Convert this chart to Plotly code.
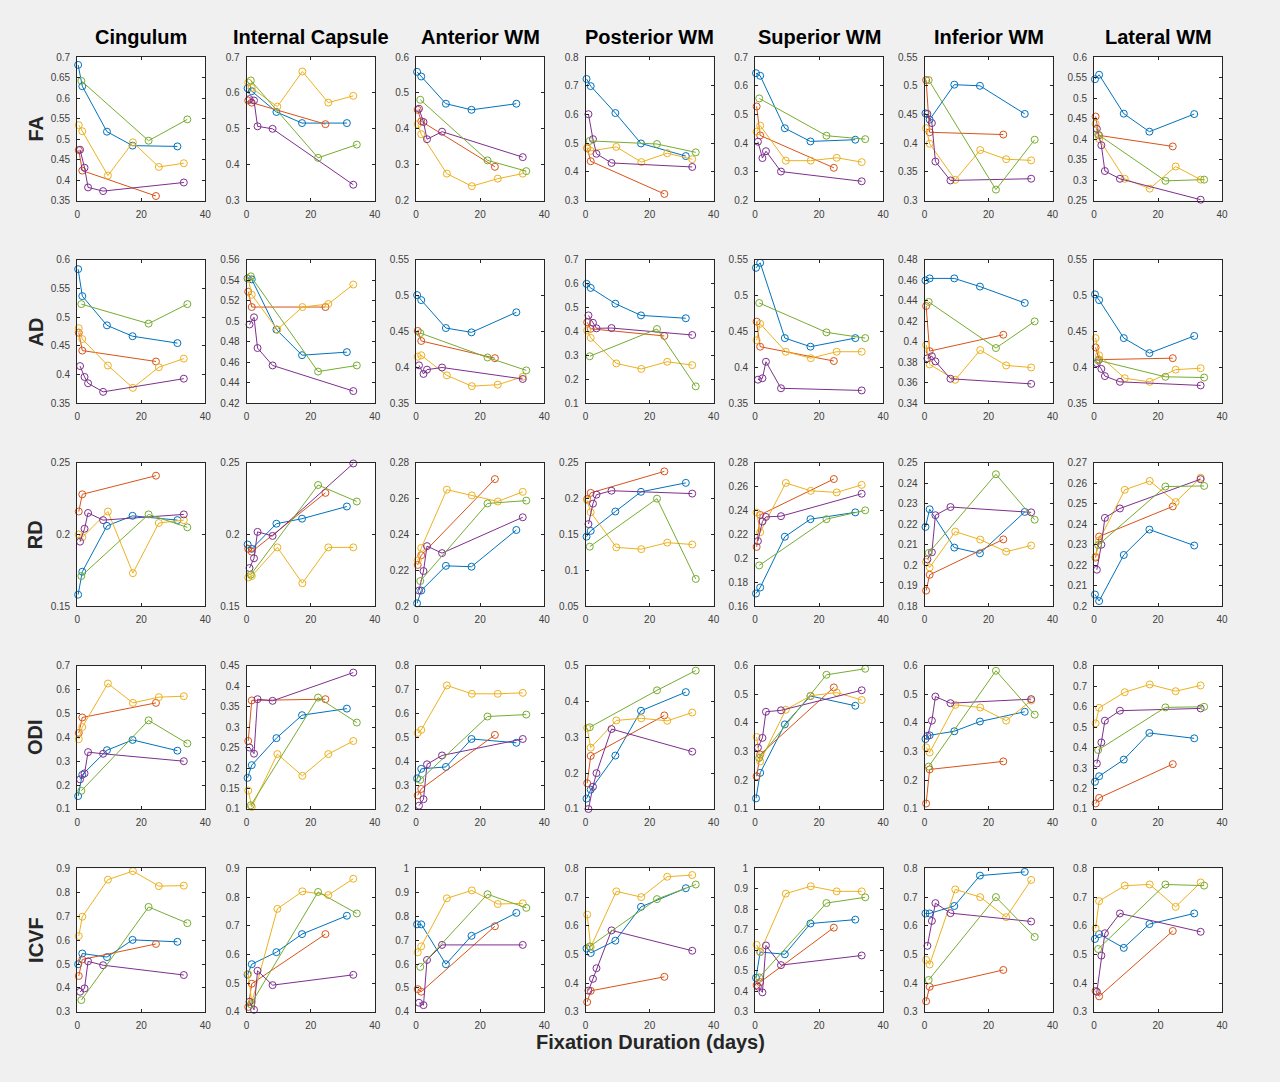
import plotly.graph_objects as go

REGIONS = ["Cingulum", "Internal Capsule", "Anterior WM", "Posterior WM",
           "Superior WM", "Inferior WM", "Lateral WM"]
METRICS = ["FA", "AD", "RD", "ODI", "ICVF"]
XLABEL = "Fixation Duration (days)"

# fixation durations (days) of each specimen series
X_BLUE = [0.3, 1.6, 9.3, 17.3, 31.3]
X_ORANGE = [0.5, 1.6, 24.6]
X_YELLOW = [0.5, 1.6, 9.6, 17.4, 25.5, 33.3]
X_PURPLE = [0.9, 2.3, 3.4, 8.1, 33.3]
X_GREEN = [1.3, 22.3, 34.4]

# values: one list per region (Cingulum .. Lateral WM)
FA_BLUE = [[0.681, 0.629, 0.518, 0.484, 0.482], [0.613, 0.605, 0.547, 0.516, 0.516],
           [0.559, 0.546, 0.470, 0.453, 0.470], [0.724, 0.699, 0.605, 0.499, 0.455],
           [0.644, 0.635, 0.452, 0.406, 0.412], [0.452, 0.441, 0.502, 0.500, 0.451],
           [0.546, 0.557, 0.462, 0.418, 0.461]]
FA_ORANGE = [[0.473, 0.423, 0.361], [0.579, 0.573, 0.513], [0.453, 0.421, 0.294],
             [0.482, 0.437, 0.323], [0.528, 0.427, 0.314], [0.510, 0.419, 0.415],
             [0.455, 0.409, 0.382]]
FA_YELLOW = [[0.534, 0.519, 0.411, 0.492, 0.432, 0.441], [0.629, 0.614, 0.562, 0.660, 0.573, 0.592],
             [0.413, 0.385, 0.275, 0.240, 0.261, 0.275], [0.485, 0.473, 0.487, 0.434, 0.465, 0.444],
             [0.440, 0.461, 0.339, 0.339, 0.349, 0.334], [0.426, 0.399, 0.336, 0.388, 0.372, 0.370],
             [0.437, 0.400, 0.303, 0.279, 0.333, 0.301]]
FA_PURPLE = [[0.474, 0.430, 0.382, 0.373, 0.394], [0.583, 0.579, 0.507, 0.500, 0.344],
             [0.456, 0.419, 0.371, 0.392, 0.321], [0.601, 0.514, 0.463, 0.431, 0.417],
             [0.405, 0.348, 0.372, 0.301, 0.267], [0.451, 0.435, 0.368, 0.335, 0.338],
             [0.425, 0.385, 0.322, 0.303, 0.252]]
FA_GREEN = [[0.642, 0.496, 0.548], [0.635, 0.419, 0.456], [0.481, 0.312, 0.282],
            [0.508, 0.497, 0.468], [0.556, 0.426, 0.414], [0.510, 0.319, 0.406],
            [0.411, 0.298, 0.301]]

AD_BLUE = [[0.584, 0.537, 0.486, 0.467, 0.455], [0.542, 0.541, 0.492, 0.467, 0.470],
           [0.501, 0.494, 0.455, 0.449, 0.477], [0.600, 0.583, 0.517, 0.468, 0.456],
           [0.539, 0.546, 0.441, 0.429, 0.441], [0.460, 0.462, 0.462, 0.454, 0.438],
           [0.502, 0.494, 0.441, 0.420, 0.444]]
AD_ORANGE = [[0.473, 0.442, 0.423], [0.529, 0.514, 0.514], [0.451, 0.437, 0.413],
             [0.439, 0.412, 0.382], [0.464, 0.429, 0.409], [0.435, 0.391, 0.407],
             [0.428, 0.411, 0.413]]
AD_YELLOW = [[0.481, 0.462, 0.416, 0.377, 0.413, 0.428], [0.542, 0.526, 0.492, 0.514, 0.517, 0.536],
             [0.415, 0.417, 0.389, 0.374, 0.376, 0.387], [0.405, 0.374, 0.267, 0.244, 0.274, 0.260],
             [0.438, 0.461, 0.422, 0.413, 0.422, 0.422], [0.397, 0.378, 0.363, 0.392, 0.377, 0.375],
             [0.441, 0.417, 0.385, 0.380, 0.397, 0.399]]
AD_PURPLE = [[0.415, 0.396, 0.385, 0.370, 0.393], [0.497, 0.504, 0.474, 0.457, 0.432],
             [0.403, 0.391, 0.397, 0.400, 0.384], [0.468, 0.437, 0.414, 0.415, 0.386],
             [0.383, 0.385, 0.408, 0.371, 0.368], [0.384, 0.386, 0.381, 0.364, 0.359],
             [0.406, 0.398, 0.388, 0.380, 0.375]]
AD_GREEN = [[0.523, 0.489, 0.523], [0.544, 0.451, 0.457], [0.448, 0.414, 0.396],
            [0.297, 0.411, 0.171], [0.490, 0.449, 0.441], [0.439, 0.394, 0.420],
            [0.410, 0.387, 0.386]]

RD_BLUE = [[0.158, 0.174, 0.206, 0.213, 0.210], [0.193, 0.190, 0.2075, 0.211, 0.2195],
           [0.2016, 0.2087, 0.2225, 0.222, 0.2425], [0.147, 0.155, 0.182, 0.2095, 0.222],
           [0.1706, 0.1756, 0.2181, 0.2328, 0.2385], [0.2187, 0.2273, 0.2086, 0.2058, 0.226],
           [0.2057, 0.2025, 0.225, 0.2374, 0.2296]]
RD_ORANGE = [[0.216, 0.228, 0.241], [0.190, 0.188, 0.229], [0.223, 0.2284, 0.2709],
             [0.1995, 0.208, 0.238], [0.2096, 0.2364, 0.2664], [0.1876, 0.1953, 0.2126],
             [0.2237, 0.234, 0.2487]]
RD_YELLOW = [[0.200, 0.198, 0.216, 0.173, 0.208, 0.210], [0.170, 0.171, 0.191, 0.166, 0.191, 0.191],
             [0.2255, 0.2325, 0.265, 0.2618, 0.2584, 0.2638], [0.1977, 0.181, 0.132, 0.1295, 0.1386, 0.136],
             [0.2383, 0.2219, 0.2631, 0.2565, 0.2552, 0.2615], [0.2016, 0.1989, 0.2164, 0.2125, 0.2066, 0.2096],
             [0.2242, 0.2321, 0.2568, 0.2611, 0.2508, 0.2627]]
RD_PURPLE = [[0.195, 0.204, 0.215, 0.210, 0.214], [0.1766, 0.1834, 0.2018, 0.199, 0.2495],
             [0.2087, 0.2196, 0.2335, 0.2296, 0.2496], [0.1645, 0.193, 0.2055, 0.211, 0.207],
             [0.2145, 0.2309, 0.2347, 0.2353, 0.2541], [0.2029, 0.2063, 0.2244, 0.2284, 0.2258],
             [0.2178, 0.230, 0.2431, 0.2477, 0.262]]
RD_GREEN = [[0.171, 0.214, 0.205], [0.172, 0.2345, 0.223], [0.214, 0.2573, 0.2589],
            [0.133, 0.200, 0.088], [0.1941, 0.2328, 0.2402], [0.206, 0.2444, 0.2222],
            [0.2298, 0.2584, 0.2587]]

ODI_BLUE = [[0.154, 0.243, 0.346, 0.389, 0.344], [0.176, 0.207, 0.273, 0.329, 0.345],
            [0.328, 0.368, 0.376, 0.493, 0.477], [0.129, 0.154, 0.249, 0.374, 0.426],
            [0.137, 0.226, 0.395, 0.494, 0.460], [0.344, 0.357, 0.371, 0.405, 0.439],
            [0.233, 0.260, 0.341, 0.471, 0.445]]
ODI_ORANGE = [[0.418, 0.483, 0.544], [0.266, 0.365, 0.368], [0.257, 0.284, 0.510],
              [0.172, 0.248, 0.361], [0.214, 0.290, 0.524], [0.119, 0.238, 0.266],
              [0.127, 0.154, 0.319]]
ODI_YELLOW = [[0.392, 0.443, 0.625, 0.544, 0.568, 0.572], [0.145, 0.105, 0.234, 0.181, 0.234, 0.266],
              [0.518, 0.531, 0.717, 0.682, 0.682, 0.686], [0.326, 0.271, 0.347, 0.353, 0.346, 0.369],
              [0.351, 0.266, 0.446, 0.495, 0.506, 0.480], [0.315, 0.297, 0.463, 0.454, 0.408, 0.478],
              [0.518, 0.594, 0.670, 0.708, 0.675, 0.703]]
ODI_PURPLE = [[0.224, 0.249, 0.338, 0.331, 0.300], [0.250, 0.235, 0.368, 0.364, 0.433],
              [0.214, 0.241, 0.387, 0.424, 0.493], [0.100, 0.162, 0.200, 0.323, 0.260],
              [0.314, 0.348, 0.439, 0.444, 0.514], [0.355, 0.408, 0.492, 0.469, 0.483],
              [0.322, 0.425, 0.531, 0.580, 0.591]]
ODI_GREEN = [[0.176, 0.471, 0.374], [0.109, 0.372, 0.311], [0.322, 0.587, 0.595],
             [0.328, 0.431, 0.486], [0.278, 0.568, 0.589], [0.248, 0.582, 0.429],
             [0.388, 0.596, 0.599]]

ICVF_BLUE = [[0.499, 0.544, 0.529, 0.601, 0.593], [0.530, 0.566, 0.608, 0.671, 0.735],
             [0.766, 0.766, 0.599, 0.718, 0.814], [0.521, 0.505, 0.548, 0.666, 0.731],
             [0.466, 0.592, 0.581, 0.731, 0.750], [0.643, 0.643, 0.669, 0.775, 0.788],
             [0.554, 0.571, 0.523, 0.606, 0.643]]
ICVF_ORANGE = [[0.450, 0.519, 0.584], [0.417, 0.498, 0.671], [0.495, 0.484, 0.758],
               [0.334, 0.373, 0.422], [0.430, 0.445, 0.711], [0.337, 0.387, 0.446],
               [0.373, 0.354, 0.582]]
ICVF_YELLOW = [[0.617, 0.698, 0.853, 0.889, 0.826, 0.828], [0.532, 0.433, 0.759, 0.820, 0.807, 0.864],
               [0.649, 0.674, 0.875, 0.908, 0.851, 0.854], [0.639, 0.526, 0.720, 0.700, 0.771, 0.777],
               [0.627, 0.592, 0.877, 0.913, 0.888, 0.888], [0.481, 0.465, 0.727, 0.700, 0.630, 0.760],
               [0.591, 0.686, 0.740, 0.744, 0.666, 0.751]]
ICVF_PURPLE = [[0.384, 0.398, 0.511, 0.495, 0.454], [0.435, 0.407, 0.543, 0.493, 0.529],
               [0.438, 0.428, 0.617, 0.680, 0.680], [0.374, 0.415, 0.452, 0.584, 0.513],
               [0.423, 0.395, 0.624, 0.528, 0.575], [0.530, 0.617, 0.679, 0.644, 0.615],
               [0.370, 0.496, 0.574, 0.643, 0.579]]
ICVF_GREEN = [[0.349, 0.739, 0.671], [0.426, 0.818, 0.743], [0.588, 0.892, 0.835],
              [0.528, 0.693, 0.744], [0.468, 0.831, 0.859], [0.411, 0.700, 0.561],
              [0.519, 0.744, 0.740]]

# y-axis (min, max, step) per panel
YAX_FA = [(0.35, 0.7, 0.05), (0.3, 0.7, 0.1), (0.2, 0.6, 0.1), (0.3, 0.8, 0.1),
          (0.2, 0.7, 0.1), (0.3, 0.55, 0.05), (0.25, 0.6, 0.05)]
YAX_AD = [(0.35, 0.6, 0.05), (0.42, 0.56, 0.02), (0.35, 0.55, 0.05), (0.1, 0.7, 0.1),
          (0.35, 0.55, 0.05), (0.34, 0.48, 0.02), (0.35, 0.55, 0.05)]
YAX_RD = [(0.15, 0.25, 0.05), (0.15, 0.25, 0.05), (0.2, 0.28, 0.02), (0.05, 0.25, 0.05),
          (0.16, 0.28, 0.02), (0.18, 0.25, 0.01), (0.2, 0.27, 0.01)]
YAX_ODI = [(0.1, 0.7, 0.1), (0.1, 0.45, 0.05), (0.2, 0.8, 0.1), (0.1, 0.5, 0.1),
           (0.1, 0.6, 0.1), (0.1, 0.6, 0.1), (0.1, 0.8, 0.1)]
YAX_ICVF = [(0.3, 0.9, 0.1), (0.4, 0.9, 0.1), (0.4, 1.0, 0.1), (0.3, 0.8, 0.1),
            (0.3, 1.0, 0.1), (0.3, 0.8, 0.1), (0.3, 0.8, 0.1)]

COLORS = ["#0072BD", "#D95319", "#EDB120", "#7E2F8E", "#77AC30"]
XS = [X_BLUE, X_ORANGE, X_YELLOW, X_PURPLE, X_GREEN]
DATA = {
    "FA": [FA_BLUE, FA_ORANGE, FA_YELLOW, FA_PURPLE, FA_GREEN],
    "AD": [AD_BLUE, AD_ORANGE, AD_YELLOW, AD_PURPLE, AD_GREEN],
    "RD": [RD_BLUE, RD_ORANGE, RD_YELLOW, RD_PURPLE, RD_GREEN],
    "ODI": [ODI_BLUE, ODI_ORANGE, ODI_YELLOW, ODI_PURPLE, ODI_GREEN],
    "ICVF": [ICVF_BLUE, ICVF_ORANGE, ICVF_YELLOW, ICVF_PURPLE, ICVF_GREEN],
}
YAX = {"FA": YAX_FA, "AD": YAX_AD, "RD": YAX_RD, "ODI": YAX_ODI, "ICVF": YAX_ICVF}

W, H = 1280, 1082
COL_LEFT = [74.7 + 170.67 * i for i in range(7)]
COL_W = 129
ROW_TOP = [51.7 + 205.1 * i for i in range(5)]
ROW_H = 145

FONT = "Liberation Sans, Arial, Helvetica, sans-serif"
TICKCOL = "#262626"

fig = go.Figure()
layout = {}
n = 0
for r, metric in enumerate(METRICS):
    for c in range(len(REGIONS)):
        n += 1
        xa = "x" if n == 1 else f"x{n}"
        ya = "y" if n == 1 else f"y{n}"
        for s in range(5):
            fig.add_trace(go.Scatter(
                x=XS[s], y=DATA[metric][s][c], xaxis=xa, yaxis=ya,
                mode="lines+markers", cliponaxis=False, showlegend=False,
                line=dict(color=COLORS[s], width=1),
                marker=dict(symbol="circle-open", size=7, color=COLORS[s],
                            line=dict(width=1, color=COLORS[s])),
            ))
        x0 = COL_LEFT[c] / W
        x1 = (COL_LEFT[c] + COL_W) / W
        y1 = 1 - ROW_TOP[r] / H
        y0 = 1 - (ROW_TOP[r] + ROW_H) / H
        lo, hi, step = YAX[metric][c]
        common = dict(showline=True, linecolor=TICKCOL, linewidth=1, mirror="ticks",
                      ticks="inside", ticklen=3, tickwidth=0.8, tickcolor=TICKCOL,
                      showgrid=False, zeroline=False, ticklabelstandoff=4,
                      tickfont=dict(family=FONT, size=10, color="#404040"))
        layout["xaxis" if n == 1 else f"xaxis{n}"] = dict(
            domain=[x0, x1], anchor=ya, range=[0, 40], tick0=0, dtick=20, **common)
        layout["yaxis" if n == 1 else f"yaxis{n}"] = dict(
            domain=[y0, y1], anchor=xa, range=[lo, hi], tick0=lo, dtick=step, **common)

annotations = []
for c, reg in enumerate(REGIONS):
    annotations.append(dict(
        text=f"<b>{reg}</b>", x=(COL_LEFT[c] + COL_W / 2) / W, y=1 - 31 / H,
        xref="paper", yref="paper", showarrow=False, xanchor="center", yanchor="middle",
        font=dict(family=FONT, size=20, color="#000000")))
for r, metric in enumerate(METRICS):
    annotations.append(dict(
        text=f"<b>{metric}</b>", x=33 / W, y=1 - (ROW_TOP[r] + ROW_H / 2) / H,
        xref="paper", yref="paper", showarrow=False, xanchor="center", yanchor="middle",
        textangle=-90, font=dict(family=FONT, size=20, color="#262626")))
annotations.append(dict(
    text=f"<b>{XLABEL}</b>", x=652 / W, y=1 - 1048 / H,
    xref="paper", yref="paper", showarrow=False, xanchor="center", yanchor="middle",
    font=dict(family=FONT, size=20, color="#262626")))

fig.update_layout(
    width=W, height=H, margin=dict(l=0, r=0, t=0, b=0),
    paper_bgcolor="#f0f0f0", plot_bgcolor="#ffffff",
    annotations=annotations, **layout)

fig.write_html("out.html", config={"displayModeBar": False},
               post_script="document.body.style.margin='0';document.body.style.overflow='hidden';")
